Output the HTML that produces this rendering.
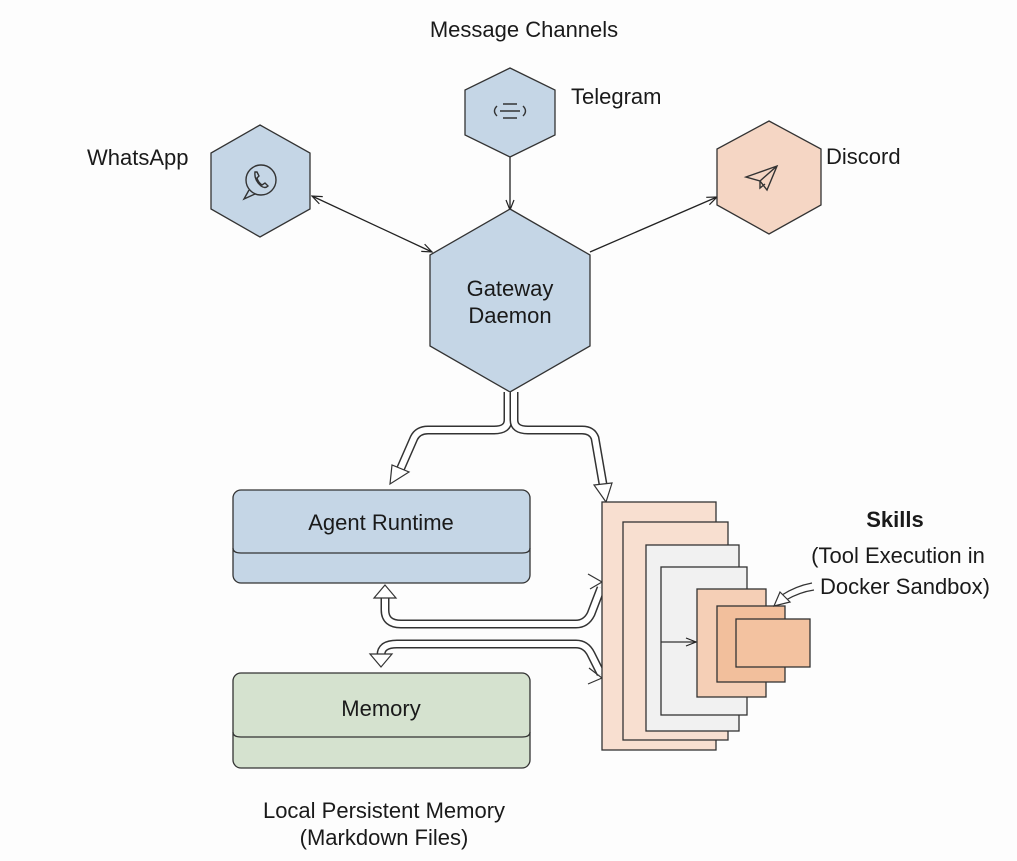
<!DOCTYPE html>
<html><head><meta charset="utf-8"><style>
html,body{margin:0;padding:0;background:#fdfdfd;}
svg{display:block;}
text{font-family:"Liberation Sans",sans-serif;fill:#1a1a1a;}
</style></head><body>
<svg width="1017" height="861" viewBox="0 0 1017 861" xmlns="http://www.w3.org/2000/svg">
<defs>
<marker id="ah" markerWidth="12" markerHeight="10" refX="11" refY="5" orient="auto" markerUnits="userSpaceOnUse">
<path d="M1,1 L11,5 L1,9" fill="none" stroke="#222" stroke-width="1.2"/>
</marker>
<marker id="ahs" markerWidth="12" markerHeight="10" refX="11" refY="5" orient="auto-start-reverse" markerUnits="userSpaceOnUse">
<path d="M1,1 L11,5 L1,9" fill="none" stroke="#222" stroke-width="1.2"/>
</marker>
</defs>
<rect width="1017" height="861" fill="#fdfdfd"/>

<text x="524" y="37" font-size="22" text-anchor="middle">Message Channels</text>

<line x1="312" y1="196" x2="432" y2="252" stroke="#222" stroke-width="1.3" marker-start="url(#ahs)" marker-end="url(#ah)"/>
<line x1="510" y1="157" x2="510" y2="210" stroke="#222" stroke-width="1.3" marker-end="url(#ah)"/>
<line x1="590" y1="252" x2="717" y2="197" stroke="#222" stroke-width="1.3" marker-end="url(#ah)"/>

<polygon points="260,125 310,153 310,209 260,237 211,209 211,153" fill="#c5d6e6" stroke="#333" stroke-width="1.3"/>
<polygon points="510,68 555,90 555,135 510,157 465,135 465,90" fill="#c5d6e6" stroke="#333" stroke-width="1.3"/>
<polygon points="769,121 821,149 821,205 769,234 717,205 717,149" fill="#f5d6c4" stroke="#333" stroke-width="1.3"/>
<polygon points="510,209 590,255 590,346 510,392 430,346 430,255" fill="#c5d6e6" stroke="#333" stroke-width="1.3"/>

<g fill="none" stroke="#333" stroke-width="1.4">
<circle cx="261" cy="180" r="15"/>
<path d="M249,190 L244,199 L255,194"/>
<path d="M255,172 q-1,8 6,14 q4,3 7,0 l-3,-3 l-3,2 q-4,-3 -5,-7 l2,-2 l-2,-4 z"/>
<path d="M503,104 h14 M500,111 h20 M503,118 h14"/>
<path d="M497,106 q-5,5 0,10 M523,106 q5,5 0,10"/>
<path d="M746,177 L777,166 L767,190 L760,181 Z M760,181 L777,166 M760,181 l0,7 l5,-4"/>
</g>

<text x="87" y="165" font-size="22">WhatsApp</text>
<text x="571" y="104" font-size="22">Telegram</text>
<text x="826" y="164" font-size="22">Discord</text>
<text x="510" y="296" font-size="22" text-anchor="middle">Gateway</text>
<text x="510" y="323" font-size="22" text-anchor="middle">Daemon</text>

<rect x="233" y="490" width="297" height="93" rx="8" fill="#c5d6e6" stroke="#333" stroke-width="1.3"/>
<path d="M233,548 q0,5 8,5 h281 q8,0 8,-5" fill="none" stroke="#333" stroke-width="1.3"/>
<text x="381" y="530" font-size="22" text-anchor="middle">Agent Runtime</text>
<rect x="233" y="673" width="297" height="95" rx="8" fill="#d5e2cf" stroke="#333" stroke-width="1.3"/>
<path d="M233,732 q0,5 8,5 h281 q8,0 8,-5" fill="none" stroke="#333" stroke-width="1.3"/>
<text x="381" y="716" font-size="22" text-anchor="middle">Memory</text>

<text x="384" y="818" font-size="22" text-anchor="middle">Local Persistent Memory</text>
<text x="384" y="845" font-size="22" text-anchor="middle">(Markdown Files)</text>

<g fill="none" stroke-linejoin="round">
<path d="M508,392 V420 q0,10 -14,10 H428 q-10,0 -14,8 L400,470" stroke="#333" stroke-width="9"/>
<path d="M508,392 V420 q0,10 -14,10 H428 q-10,0 -14,8 L400,470" stroke="#fff" stroke-width="6"/>
<path d="M514,392 V420 q0,10 14,10 H582 q10,0 13,8 L604,490" stroke="#333" stroke-width="9"/>
<path d="M514,392 V420 q0,10 14,10 H582 q10,0 13,8 L604,490" stroke="#fff" stroke-width="6"/>
<path d="M385,598 V610 q0,14 16,14 H576 q10,0 15,-10 L601,588" stroke="#333" stroke-width="9"/>
<path d="M385,598 V610 q0,14 16,14 H576 q10,0 15,-10 L601,588" stroke="#fff" stroke-width="6"/>
<path d="M381,655 q0,-11 16,-11 H576 q10,0 15,10 L601,674" stroke="#333" stroke-width="9"/>
<path d="M381,655 q0,-11 16,-11 H576 q10,0 15,10 L601,674" stroke="#fff" stroke-width="6"/>
</g>
<g fill="#fff" stroke="#333" stroke-width="1.2">
<polygon points="390,484 392,465 409,472"/>
<polygon points="606,502 594,485 612,483"/>
<polygon points="385,585 374,598 396,598"/>
<polygon points="381,667 370,654 392,654"/>
</g>
<path d="M588,574 L602,582 L590,589" fill="none" stroke="#333" stroke-width="1.2"/>
<path d="M589,668 L602,678 L588,684" fill="none" stroke="#333" stroke-width="1.2"/>

<g stroke="#333" stroke-width="1.3">
<rect x="602" y="502" width="114" height="248" fill="#f8dfd0"/>
<rect x="623" y="522" width="105" height="218" fill="#f8dfd0"/>
<rect x="646" y="545" width="93" height="186" fill="#f1f1f1"/>
<rect x="661" y="567" width="86" height="148" fill="#f1f1f1"/>
<rect x="697" y="589" width="69" height="108" fill="#f5cfb6"/>
<rect x="717" y="606" width="68" height="76" fill="#f2bf9c"/>
<rect x="736" y="619" width="74" height="48" fill="#f3c2a0"/>
</g>
<line x1="661" y1="642" x2="696" y2="642" stroke="#333" stroke-width="1.2" marker-end="url(#ah)"/>

<path d="M814,590 q-14,2 -28,10 M812,583 q-16,3 -30,12" fill="none" stroke="#333" stroke-width="1.2"/>
<polygon points="774,606 780,592 790,602" fill="#fff" stroke="#333" stroke-width="1.2"/>

<text x="895" y="527" font-size="22" font-weight="bold" text-anchor="middle">Skills</text>
<text x="898" y="563" font-size="22" text-anchor="middle">(Tool Execution in</text>
<text x="905" y="594" font-size="22" text-anchor="middle">Docker Sandbox)</text>
</svg>
</body></html>
